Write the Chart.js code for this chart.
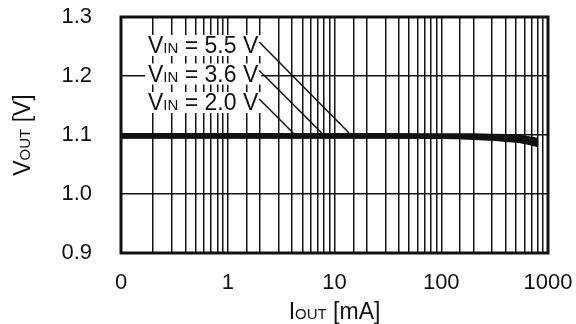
<!DOCTYPE html>
<html>
<head>
<meta charset="utf-8">
<script src="https://cdn.jsdelivr.net/npm/chart.js@4/dist/chart.umd.min.js"></script>
<style>
  html, body { margin: 0; padding: 0; background: #fff; }
  .chart-container { width: 576px; height: 324px; position: relative; }
</style>
</head>
<body>
<div class="chart-container"><canvas id="chart"></canvas></div>
<script>
const FONT = '"Liberation Sans", Arial, sans-serif';

// output current in mA, output voltage in V
const iout = [0.1, 1, 10, 30, 100, 200, 300, 400, 500, 600, 700, 800];
const vout55 = [1.0995, 1.0995, 1.0995, 1.0995, 1.0993, 1.099, 1.0985, 1.098, 1.097, 1.0955, 1.0935, 1.0915];
const vout36 = [1.098, 1.098, 1.098, 1.098, 1.0978, 1.097, 1.096, 1.0945, 1.093, 1.0915, 1.0895, 1.0873];
const vout20 = [1.0975, 1.0975, 1.0975, 1.0975, 1.097, 1.0955, 1.094, 1.092, 1.0905, 1.0885, 1.086, 1.083];
const vinLabels = ['5.5', '3.6', '2.0'];
const leaderTo = [13.7, 7.6, 4.1]; // mA where each label's leader meets the curve

const xTickValues = [0.1, 1, 10, 100, 1000];
const xTickLabels = ['0', '1', '10', '100', '1000'];
const yTickValues = [0.9, 1.0, 1.1, 1.2, 1.3];
const yTickLabels = ['0.9', '1.0', '1.1', '1.2', '1.3'];

// draws text pieces of different sizes one after another, returns total width
function drawParts(ctx, x, y, parts, measureOnly) {
  let w = 0;
  parts.forEach(([txt, size]) => {
    ctx.font = size + 'px ' + FONT;
    if (!measureOnly) ctx.fillText(txt, x + w, y);
    w += ctx.measureText(txt).width;
  });
  return w;
}

// keep the plot box fixed, labels may hang over the edges
function noPad(s) {
  s.paddingTop = 0;
  s.paddingBottom = 0;
  s.paddingLeft = 0;
  s.paddingRight = 0;
}

const decorations = {
  id: 'decorations',
  beforeDatasetsDraw(chart) {
    const { ctx, chartArea, scales } = chart;
    ctx.save();
    ctx.fillStyle = '#111';
    ctx.textBaseline = 'alphabetic';
    ctx.textAlign = 'left';
    const left = chartArea.left + 27;
    vinLabels.forEach((v, i) => {
      const base = chartArea.top + 36 + i * 28.5;
      const parts = [['V', 23], ['IN', 15], [' = ' + v + ' V', 23]];
      const w = drawParts(ctx, left, base, parts, true);
      ctx.fillStyle = '#fff';
      ctx.fillRect(left - 3, base - 18, w + 6, 21);
      ctx.fillStyle = '#111';
      drawParts(ctx, left, base, parts);
      // leader line down to the curve
      ctx.strokeStyle = '#111';
      ctx.lineWidth = 1.5;
      ctx.beginPath();
      ctx.moveTo(left + w + 1, base - 11);
      ctx.lineTo(scales.x.getPixelForValue(leaderTo[i]), scales.y.getPixelForValue(1.1) - 2);
      ctx.stroke();
    });
    ctx.restore();
  },
  afterDraw(chart) {
    const { ctx, chartArea } = chart;
    ctx.save();
    ctx.strokeStyle = '#111';
    ctx.lineWidth = 3;
    ctx.strokeRect(chartArea.left, chartArea.top, chartArea.right - chartArea.left, chartArea.bottom - chartArea.top);

    ctx.fillStyle = '#111';
    ctx.textBaseline = 'alphabetic';
    ctx.textAlign = 'left';
    // x axis title
    const xParts = [['I', 23], ['OUT', 15], [' [mA]', 23]];
    const xw = drawParts(ctx, 0, 0, xParts, true);
    drawParts(ctx, (chartArea.left + chartArea.right) / 2 - xw / 2, 319, xParts);
    // y axis title
    const yParts = [['V', 23], ['OUT', 15], [' [V]', 23]];
    const yw = drawParts(ctx, 0, 0, yParts, true);
    ctx.translate(30, (chartArea.top + chartArea.bottom) / 2);
    ctx.rotate(-Math.PI / 2);
    drawParts(ctx, -yw / 2, 0, yParts);
    ctx.restore();
  }
};

const lineStyle = {
  borderColor: '#111',
  borderWidth: 4.5,
  pointRadius: 0,
  fill: false,
  cubicInterpolationMode: 'monotone',
};

new Chart(document.getElementById('chart'), {
  type: 'line',
  data: {
    datasets: [
      { label: 'VIN = 5.5 V', data: iout.map((x, i) => ({ x, y: vout55[i] })), ...lineStyle },
      { label: 'VIN = 3.6 V', data: iout.map((x, i) => ({ x, y: vout36[i] })), ...lineStyle },
      { label: 'VIN = 2.0 V', data: iout.map((x, i) => ({ x, y: vout20[i] })), ...lineStyle },
    ],
  },
  options: {
    responsive: true,
    maintainAspectRatio: false,
    animation: false,
    layout: { padding: { left: 0, top: 17, right: 28, bottom: 0 } },
    plugins: {
      legend: { display: false },
      tooltip: { enabled: false },
    },
    scales: {
      x: {
        type: 'logarithmic',
        min: 0.1,
        max: 1000,
        afterFit: (s) => { s.height = 71; noPad(s); },
        grid: { color: '#111', lineWidth: 1.5, drawTicks: false },
        border: { display: false },
        ticks: {
          autoSkip: false,
          maxRotation: 0,
          padding: 17,
          color: '#111',
          font: { family: FONT, size: 22 },
          callback: (v) => {
            const i = xTickValues.findIndex((t) => Math.abs(Math.log10(t) - Math.log10(v)) < 1e-6);
            return i >= 0 ? xTickLabels[i] : '';
          },
        },
      },
      y: {
        min: 0.9,
        max: 1.3,
        afterFit: (s) => { s.width = 121; noPad(s); },
        grid: { color: '#111', lineWidth: 1.5, drawTicks: false },
        border: { display: false },
        ticks: {
          stepSize: 0.1,
          padding: 29,
          color: '#111',
          font: { family: FONT, size: 22 },
          callback: (v) => {
            const i = yTickValues.findIndex((t) => Math.abs(t - v) < 1e-6);
            return i >= 0 ? yTickLabels[i] : '';
          },
        },
      },
    },
  },
  plugins: [decorations],
});
</script>
</body>
</html>
